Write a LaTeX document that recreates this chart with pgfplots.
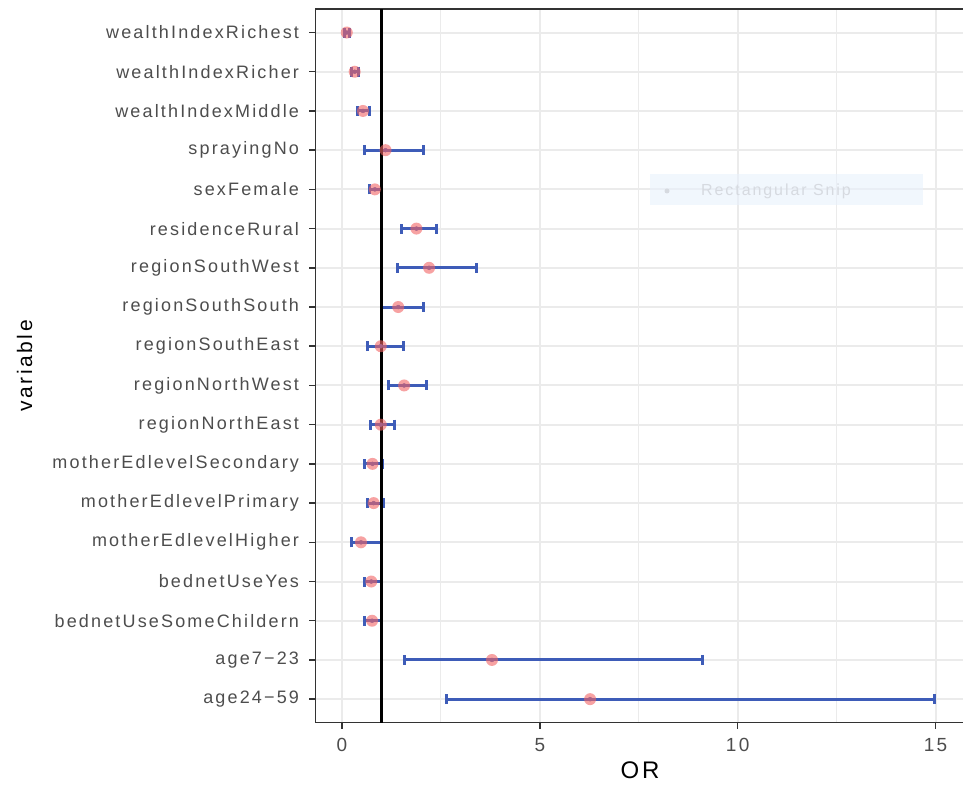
\documentclass[border=0pt]{standalone}
\usepackage{fontspec}
\setmainfont{Liberation Sans}[LetterSpace=12]
\usepackage{pgfplots}
\usepackage{pgfplotstable}
\pgfplotsset{compat=1.18}
\definecolor{ptred}{RGB}{242,100,100}
\definecolor{barblue}{RGB}{62,92,184}
\definecolor{gridgray}{RGB}{235,235,235}
\definecolor{axgray}{RGB}{51,51,51}
\definecolor{txtgray}{RGB}{77,77,77}
\definecolor{snipblue}{RGB}{232,241,252}
\definecolor{sniptext}{RGB}{214,218,224}

% pos = row from the bottom, or = odds ratio, lo/hi = interval
\pgfplotstableread{
pos or lo hi
1 6.27 2.64 14.97
2 3.79 1.57 9.12
3 0.76 0.58 0.99
4 0.74 0.58 1.00
5 0.48 0.24 1.00
6 0.80 0.64 1.05
7 0.77 0.58 1.02
8 0.98 0.72 1.33
9 1.57 1.17 2.13
10 0.98 0.64 1.55
11 1.42 1.00 2.05
12 2.20 1.40 3.41
13 1.88 1.50 2.40
14 0.83 0.70 1.00
15 1.10 0.56 2.07
16 0.53 0.40 0.69
17 0.32 0.24 0.42
18 0.12 0.06 0.19
}\ortable

\begin{document}
\begin{tikzpicture}
\useasboundingbox (0,0) rectangle (963pt,784pt);
\begin{axis}[
at={(315.5pt,61.3pt)}, anchor=south west,
width=660pt, height=713.7pt, scale only axis,
xmin=-0.67, xmax=16.01, ymin=0.4, ymax=18.6,
xtick={0,5,10,15}, minor xtick={2.5,7.5,12.5},
ytick={1,...,18},
yticklabels={age24−59,age7−23,bednetUseSomeChildern,bednetUseYes,motherEdlevelHigher,motherEdlevelPrimary,motherEdlevelSecondary,regionNorthEast,regionNorthWest,regionSouthEast,regionSouthSouth,regionSouthWest,residenceRural,sexFemale,sprayingNo,wealthIndexMiddle,wealthIndexRicher,wealthIndexRichest},
grid=both,
major grid style={gridgray, line width=2pt},
minor grid style={gridgray, line width=1pt},
axis line style={axgray, line width=1.3pt},
tick align=outside, major tick length=6pt, minor tick length=0pt,
xtick pos=lower, ytick pos=left,
major tick style={axgray, line width=1.5pt},
ticklabel style={text=txtgray},
yticklabel style={font=\fontsize{18}{18}\selectfont, xshift=-7pt},
xticklabel style={font=\fontsize{19}{19}\selectfont, yshift=-6pt},
/pgf/number format/assume math mode=true,
xlabel={OR}, ylabel={variable},
xlabel style={font=\fontsize{24}{24}\selectfont, at={(axis description cs:0.5,-0.0775)}, anchor=base, xshift=-5.5pt},
ylabel style={font=\fontsize{21}{21}\selectfont, at={(axis description cs:-0.4295,0.5)}, anchor=base},
]
% confidence intervals
\addplot[forget plot, barblue, only marks, mark=none,
  error bars/.cd, x dir=both, x explicit,
  error bar style={barblue, line width=3pt},
  error mark options={barblue, line width=3pt, mark size=5pt, rotate=90}]
  table[x=or, y=pos,
    x error plus expr=\thisrow{hi}-\thisrow{or},
    x error minus expr=\thisrow{or}-\thisrow{lo}] {\ortable};
% point estimates
\addplot[only marks, mark=*, mark size=6pt, color=ptred,
  mark options={draw opacity=0, fill=ptred, fill opacity=0.6}]
  table[x=or, y=pos] {\ortable};
\addplot[black, line width=2.5pt] coordinates {(1,0.4) (1,18.6)};
\end{axis}
\fill[snipblue, fill opacity=0.6] (650pt,579pt) rectangle (923pt,610pt);
\fill[sniptext] (667pt,593pt) circle (2.5pt);
\node[anchor=base west, inner sep=0pt, text=sniptext, font=\fontsize{16}{16}\selectfont] at (701pt,588pt) {Rectangular Snip};
\end{tikzpicture}
\end{document}
